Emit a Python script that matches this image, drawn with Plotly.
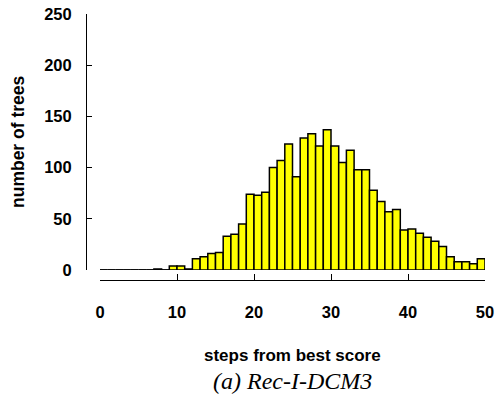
import plotly.graph_objects as go

# data: number of trees per step bin [i, i+1)
bins = list(range(0, 50))
counts = [0, 0, 0, 0, 0, 0, 0, 1, 0, 4,
          4, 1, 11, 13, 16, 17, 33, 35, 45, 74,
          73, 76, 100, 107, 123, 91, 129, 133, 121, 137,
          121, 105, 117, 98, 98, 78, 67, 57, 59, 39,
          40, 36, 32, 28, 23, 13, 8, 8, 6, 11]
x_ticks = [0, 10, 20, 30, 40, 50]
y_ticks = [0, 50, 100, 150, 200, 250]

centers = [b + 0.5 for b in bins]

# baseline segments for empty bins
zx, zy = [], []
for b, c in zip(bins, counts):
    if c == 0:
        zx += [b, b + 1, None]
        zy += [0, 0, None]

fig = go.Figure()
fig.add_trace(go.Bar(
    x=centers, y=counts, width=1,
    marker=dict(color="#FFFF00", line=dict(color="black", width=1.5)),
    showlegend=False, hoverinfo="skip"))
fig.add_trace(go.Scatter(
    x=zx, y=zy, mode="lines", line=dict(color="black", width=1.5),
    showlegend=False, hoverinfo="skip", cliponaxis=False))

W, H = 495, 409
ml, mr, mt, mb = 86, 10, 14, 129
pw = W - ml - mr
ph = H - mt - mb

sans = "Liberation Sans, Arial, sans-serif"
tickfont = dict(family=sans, size=16.5, color="black")

fig.update_layout(
    width=W, height=H,
    margin=dict(l=ml, r=mr, t=mt, b=mb, pad=0, autoexpand=False),
    paper_bgcolor="white", plot_bgcolor="white",
    bargap=0,
    xaxis=dict(
        domain=[14 / pw, 1], range=[0, 50], anchor="free", position=0,
        tickvals=x_ticks, ticktext=[f"<b>{v}</b>" for v in x_ticks],
        ticks="inside", ticklen=6, tickwidth=1, tickcolor="black",
        showline=True, linecolor="black", linewidth=1,
        showgrid=False, zeroline=False, tickfont=tickfont,
        ticklabelstandoff=17, ticklabeloverflow="allow",
        fixedrange=True, automargin=False),
    yaxis=dict(
        domain=[10 / ph, 1], range=[0, 250], anchor="free", position=0,
        tickvals=y_ticks, ticktext=[f"<b>{v}</b>" for v in y_ticks],
        ticks="inside", ticklen=5, tickwidth=1, tickcolor="black",
        showline=True, linecolor="black", linewidth=1,
        showgrid=False, zeroline=False, tickfont=tickfont,
        ticklabelstandoff=11, ticklabeloverflow="allow",
        fixedrange=True, automargin=False),
    annotations=[
        dict(text="<b>steps from best score</b>", xref="x domain", yref="paper",
             x=0.5, y=(280 - 356) / ph, xanchor="center", yanchor="middle",
             showarrow=False,
             font=dict(family=sans, size=17, color="black")),
        dict(text="<i>(a) Rec-I-DCM3</i>", xref="x domain", yref="paper",
             x=0.5, y=(280 - 381) / ph, xanchor="center", yanchor="middle",
             showarrow=False,
             font=dict(family="Liberation Serif, Times New Roman, serif", size=24, color="black")),
        dict(text="<b>number of trees</b>", xref="paper", yref="paper",
             x=(18 - ml) / pw, y=(280 - 142) / ph, xanchor="center", yanchor="middle",
             textangle=-90, showarrow=False,
             font=dict(family=sans, size=17.5, color="black")),
    ],
)

fig.write_html("out.html",
               config={"displayModeBar": False, "staticPlot": True},
               post_script="document.body.style.margin='0';document.body.style.overflow='hidden';")
